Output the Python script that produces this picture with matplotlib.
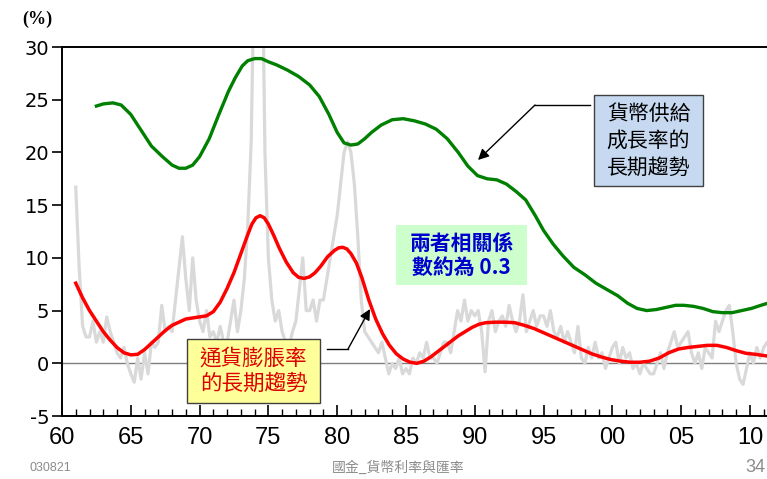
import matplotlib
matplotlib.use("Agg")
import matplotlib.pyplot as plt
from matplotlib.patches import Rectangle
import numpy as np

# ---------------- data ----------------
green_years = [1962.5, 1963.0, 1963.7, 1964.3, 1965.0, 1965.8, 1966.5, 1967.3, 1968.0, 1968.5,
               1969.0, 1969.5, 1970.0, 1970.7, 1971.4, 1972.1, 1972.6, 1973.1, 1973.5, 1974.0,
               1974.5, 1975.0, 1975.6, 1976.4, 1977.2, 1978.0, 1978.7, 1979.4, 1980.0, 1980.5,
               1981.0, 1981.5, 1982.0, 1982.5, 1983.2, 1984.0, 1984.8, 1985.6, 1986.4, 1987.2,
               1988.0, 1988.8, 1989.5, 1990.2, 1990.9, 1991.6, 1992.3, 1993.0, 1993.7, 1994.4,
               1995.0, 1995.7, 1996.4, 1997.2, 1998.0, 1998.8, 1999.6, 2000.4, 2001.1, 2001.8,
               2002.5, 2003.2, 2003.9, 2004.6, 2005.2, 2005.9, 2006.6, 2007.3, 2008.0, 2008.7,
               2009.4, 2010.1, 2010.8, 2011.3]
green_vals = [24.4, 24.6, 24.7, 24.5, 23.6, 22.0, 20.6, 19.6, 18.8, 18.5,
              18.5, 18.8, 19.6, 21.3, 23.6, 25.8, 27.1, 28.2, 28.7, 28.9,
              28.9, 28.6, 28.3, 27.8, 27.2, 26.4, 25.3, 23.6, 21.9, 20.9,
              20.7, 20.8, 21.3, 21.9, 22.6, 23.1, 23.2, 23.0, 22.7, 22.2,
              21.3, 20.0, 18.7, 17.8, 17.5, 17.4, 17.0, 16.3, 15.5, 14.0,
              12.6, 11.3, 10.2, 9.1, 8.4, 7.6, 7.0, 6.4, 5.7, 5.2,
              5.0, 5.1, 5.3, 5.5, 5.5, 5.4, 5.2, 4.9, 4.8, 4.8,
              5.0, 5.2, 5.5, 5.7]

red_years = [1961.0, 1961.5, 1962.0, 1962.5, 1963.0, 1963.5, 1964.0, 1964.5, 1965.0, 1965.5,
             1966.0, 1966.5, 1967.0, 1967.5, 1968.0, 1968.5, 1969.0, 1969.5, 1970.0, 1970.5,
             1971.0, 1971.5, 1972.0, 1972.5, 1973.0, 1973.5, 1973.8, 1974.1, 1974.4, 1974.7,
             1975.0, 1975.4, 1975.8, 1976.3, 1976.8, 1977.2, 1977.6, 1978.0, 1978.4, 1978.8,
             1979.3, 1979.8, 1980.1, 1980.4, 1980.7, 1981.0, 1981.4, 1981.8, 1982.3, 1982.8,
             1983.3, 1983.8, 1984.3, 1984.8, 1985.3, 1985.8, 1986.3, 1986.8, 1987.3, 1987.8,
             1988.3, 1988.8, 1989.3, 1989.8, 1990.3, 1990.8, 1991.5, 1992.2, 1992.9, 1993.6,
             1994.3, 1995.0, 1995.7, 1996.4, 1997.1, 1997.8, 1998.5, 1999.2, 1999.9, 2000.6,
             2001.3, 2002.0, 2002.7, 2003.4, 2004.1, 2004.8, 2005.5, 2006.2, 2006.9, 2007.6,
             2008.3, 2009.0, 2009.7, 2010.4, 2011.2]
red_vals = [7.6, 6.2, 5.0, 4.0, 3.0, 2.2, 1.5, 1.0, 0.8, 0.85,
            1.3, 1.9, 2.5, 3.1, 3.6, 3.9, 4.2, 4.3, 4.4, 4.5,
            4.9, 5.8, 7.1, 8.6, 10.4, 12.2, 13.2, 13.8, 14.0, 13.8,
            13.2, 12.1, 10.9, 9.6, 8.6, 8.15, 8.05, 8.2, 8.6, 9.2,
            10.1, 10.7, 10.95, 11.0, 10.85, 10.4, 9.5, 8.1, 6.0, 4.2,
            2.8, 1.7, 0.9, 0.4, 0.1, 0.0, 0.2, 0.6, 1.1, 1.6,
            2.1, 2.6, 3.0, 3.4, 3.7, 3.85, 3.9, 3.9, 3.85, 3.6,
            3.3, 2.9, 2.5, 2.1, 1.7, 1.3, 0.9, 0.6, 0.35, 0.2,
            0.1, 0.1, 0.2, 0.5, 1.0, 1.35, 1.5, 1.6, 1.7, 1.7,
            1.5, 1.2, 0.95, 0.85, 0.7]

# quarterly CPI inflation (gray), starting 1961 Q1
gray_start = 1961.0
gray_vals = [16.7, 9.0, 3.5, 2.5,   2.5, 4.0, 2.0, 3.0,   2.0, 4.4, 3.0, 2.0,   1.0, 0.5, 1.5, 0.0,
             -1.0, -1.8, 0.5, -1.5, 1.0, -1.0, 2.0, 1.5,  2.0, 5.5, 3.0, 3.5,   3.0, 6.0, 9.0, 12.0,
             8.0, 5.0, 10.0, 6.0,   4.0, 3.0, 5.0, 2.5,   3.0, 2.0, 3.5, 2.0,   2.0, 4.0, 6.0, 3.0,
             5.0, 8.0, 13.0, 21.0,  40.0, 50.0, 45.0, 20.0, 10.0, 6.0, 4.0, 5.0, 3.0, 2.0, 1.5, 3.0,
             4.0, 7.0, 10.0, 5.0,   5.0, 6.0, 4.0, 6.0,   6.0, 8.0, 10.0, 12.0, 14.0, 17.0, 20.0, 21.0,
             20.0, 17.0, 12.0, 6.0, 3.0, 2.5, 2.0, 1.5,   1.0, 2.0, 0.5, -1.0,  0.0, -0.5, 0.5, -1.0,
             -0.5, -1.0, 0.5, 0.0,  1.0, 0.5, 2.0, 0.5,   0.5, 0.0, 1.0, 2.0,   2.0, 1.0, 3.0, 5.0,
             4.0, 6.0, 4.0, 5.0,    4.5, 5.0, 3.0, -0.8,  4.0, 5.0, 3.0, 4.0,   4.5, 3.5, 5.5, 4.0,
             3.0, 4.0, 6.5, 3.0,    4.0, 5.0, 3.5, 4.5,   4.5, 3.5, 5.0, 3.0,   2.5, 3.5, 2.0, 3.0,
             2.0, 1.0, 3.5, 0.5,    0.0, 1.5, 0.5, 2.0,   0.5, 1.0, -0.5, 0.5,  1.5, 2.0, 0.0, 1.5,
             0.5, 1.0, -0.5, 0.0,   -1.0, 0.0, -0.5, -1.0, -1.0, 0.0, 1.0, -0.5, 1.0, 2.0, 3.0, 1.5,
             2.0, 2.5, 3.0, 1.0,    0.0, 1.0, -0.5, 1.5,  1.0, 0.5, 4.0, 3.0,   4.0, 5.0, 5.5, 3.0,
             0.0, -1.5, -2.0, -0.5, 1.0, 0.0, 1.5, 0.5,   1.5, 2.0, 1.2]
gray_years = [gray_start + 0.25 * i for i in range(len(gray_vals))]

xtick_pos = [1960, 1965, 1970, 1975, 1980, 1985, 1990, 1995, 2000, 2005, 2010]
xtick_labels = ["60", "65", "70", "75", "80", "85", "90", "95", "00", "05", "10"]
ytick_pos = [-5, 0, 5, 10, 15, 20, 25, 30]

# ---------------- figure ----------------
W, H = 767, 479
fig = plt.figure(figsize=(W / 100, H / 100), dpi=100)
fig.patch.set_facecolor("white")

def fx(px):
    return px / W

def fy(py):
    return 1 - py / H

ax = fig.add_axes([fx(62), fy(416), fx(W - 62) + 0.01, fy(47) - fy(416)])
ax.set_xlim(1960, 2011.24 + 0.01 * W / 13.76)
ax.set_ylim(-5, 30)

ax.axhline(0, color="#7f7f7f", lw=1.0, zorder=1)
ax.plot(gray_years, gray_vals, color="#d9d9d9", lw=2.3, zorder=2, solid_joinstyle="round")
ax.plot(green_years, green_vals, color="#008000", lw=2.4, zorder=3, solid_joinstyle="round")
ax.plot(red_years, red_vals, color="#ff0000", lw=2.5, zorder=3, solid_joinstyle="round")

for s in ["left", "bottom", "top"]:
    ax.spines[s].set_color("black")
    ax.spines[s].set_linewidth(1.4)
ax.spines["right"].set_visible(False)

ax.set_xticks(xtick_pos)
ax.set_xticklabels(xtick_labels)
ax.set_xticks(np.arange(1960, 2012, 1), minor=True)
ax.tick_params(axis="x", which="major", direction="in", length=8, width=1.2, pad=8)
ax.tick_params(axis="x", which="minor", direction="in", length=5, width=1.0)
ax.set_yticks(ytick_pos)
ax.set_yticklabels([str(v) for v in ytick_pos])
ax.tick_params(axis="y", which="major", direction="out", length=7, width=1.2, pad=2)
for lab in ax.get_xticklabels():
    lab.set_fontfamily(["Liberation Sans Narrow", "Liberation Sans"])
    lab.set_fontsize(17)
for lab in ax.get_yticklabels():
    lab.set_fontfamily(["DejaVu Sans"])
    lab.set_fontsize(14)

cjk = ["Noto Sans CJK TC", "DejaVu Sans"]

# (%) label
fig.text(fx(37), fy(19), "(%)", fontsize=13, fontweight="bold",
         family=["Liberation Serif"], ha="center", va="center")

# boxes
def box(x0, y0, x1, y1, fc, ec, lw):
    r = Rectangle((fx(x0), fy(y1)), fx(x1) - fx(x0), fy(y0) - fy(y1),
                  transform=fig.transFigure, facecolor=fc, edgecolor=ec, lw=lw, zorder=10)
    fig.add_artist(r)

# money supply box
box(594, 95, 703, 186, "#c6d9f1", "#404040", 1.0)
fig.text(fx(648.5), fy(141), "貨幣供給\n成長率的\n長期趨勢", family=cjk, fontsize=15,
         ha="center", va="center", linespacing=1.3, zorder=11, color="black")

# correlation box
box(396, 225, 527, 285, "#ccffcc", "none", 0)
fig.text(fx(461.5), fy(256), "兩者相關係\n數約為 0.3", family=cjk, fontsize=15,
         fontweight="bold", ha="center", va="center", linespacing=1.15, zorder=11, color="#0000cc")

# inflation box
box(187, 339, 320, 403, "#ffff99", "#404040", 1.0)
fig.text(fx(253.5), fy(371), "通貨膨脹率\n的長期趨勢", family=cjk, fontsize=15.5,
         ha="center", va="center", linespacing=1.2, zorder=11, color="#dd0000")

# arrows (figure pixel positions)
fig.add_artist(plt.Line2D([fx(535), fx(590)], [fy(105), fy(105)], transform=fig.transFigure,
                          color="black", lw=1.0, zorder=12))
ax.annotate("", xy=(fx(478), fy(160)), xycoords="figure fraction",
            xytext=(fx(535), fy(105)), textcoords="figure fraction",
            arrowprops=dict(arrowstyle="-|>", color="black", lw=1.0, mutation_scale=16,
                            shrinkA=0, shrinkB=0), zorder=12)
fig.add_artist(plt.Line2D([fx(327), fx(348)], [fy(349), fy(349)], transform=fig.transFigure,
                          color="black", lw=1.0, zorder=12))
ax.annotate("", xy=(fx(370), fy(309)), xycoords="figure fraction",
            xytext=(fx(348), fy(349)), textcoords="figure fraction",
            arrowprops=dict(arrowstyle="-|>", color="black", lw=1.0, mutation_scale=16,
                            shrinkA=0, shrinkB=0), zorder=12)

# footer
fig.text(fx(30), fy(468), "030821", fontsize=9, color="#8c8c8c", family=["Liberation Sans Narrow", "Liberation Sans"],
         ha="left", va="center")
fig.text(fx(398), fy(468), "國金_貨幣利率與匯率", fontsize=10, color="#8c8c8c", family=cjk,
         ha="center", va="center")
fig.text(fx(765), fy(468), "34", fontsize=13, color="#8c8c8c", family=["Liberation Sans Narrow", "Liberation Sans"],
         ha="right", va="center")

fig.savefig("out.png", dpi=100, facecolor="white")
